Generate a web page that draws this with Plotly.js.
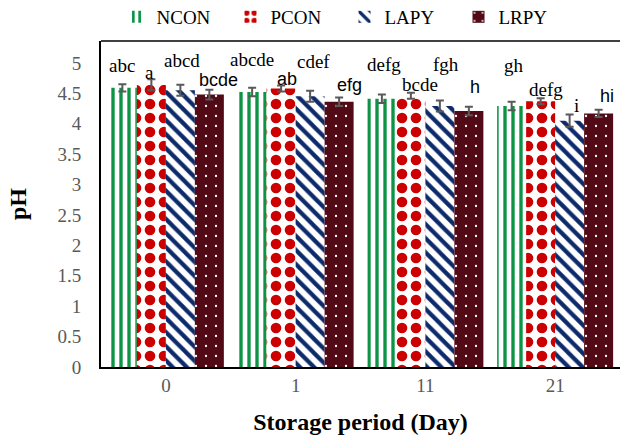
<!DOCTYPE html>
<html>
<head>
<meta charset="utf-8">
<script src="https://cdn.plot.ly/plotly-3.0.1.min.js"></script>
<style>html,body{margin:0;padding:0;background:#fff;}#chart{width:623px;height:435px;}</style>
</head>
<body>
<div id="chart"></div>
<script>
// ---- data ----
const days = ["0", "1", "11", "21"];
const seriesNames = ["NCON", "PCON", "LAPY", "LRPY"];
const ncon = [4.59, 4.52, 4.41, 4.29];
const nconErr = [0.06, 0.07, 0.07, 0.07];
const pcon = [4.64, 4.58, 4.46, 4.37];
const pconErr = [0.09, 0.05, 0.05, 0.05];
const lapy = [4.55, 4.45, 4.29, 4.05];
const lapyErr = [0.09, 0.09, 0.09, 0.10];
const lrpy = [4.48, 4.36, 4.21, 4.17];
const lrpyErr = [0.08, 0.07, 0.07, 0.06];
const nconLetters = ["abc", "abcde", "defg", "gh"];
const pconLetters = ["a", "ab", "bcde", "defg"];
const lapyLetters = ["abcd", "cdef", "fgh", "i"];
const lrpyLetters = ["bcde", "efg", "h", "hi"];
const yTicks = [0, 0.5, 1, 1.5, 2, 2.5, 3, 3.5, 4, 4.5, 5];

// ---- styling ----
const serif = "Liberation Serif";
const sans = "Liberation Sans";
const bargap = 0.106;
const values = [ncon, pcon, lapy, lrpy];
const errs = [nconErr, pconErr, lapyErr, lrpyErr];
const letters = [nconLetters, pconLetters, lapyLetters, lrpyLetters];
const patterns = [
  {shape: "|", fgcolor: "#0a9444", bgcolor: "#ffffff", size: 8, solidity: 0.42, fillmode: "replace"},
  {shape: ".", fgcolor: "#cc0000", bgcolor: "#ffffff", size: 14, solidity: 0.45, fillmode: "replace"},
  {shape: "\\", fgcolor: "#0d2a6b", bgcolor: "#ffffff", size: 10, solidity: 0.42, fillmode: "replace"},
  {shape: ".", fgcolor: "#ffffff", bgcolor: "#520b16", size: 10, solidity: 0.04, fillmode: "replace"}
];
const baseColors = ["#0a9444", "#cc0000", "#0d2a6b", "#520b16"];
// label pixel offsets (layout only)
const labShiftX = [[0,0,2,2],[-2,6,9,5],[2,3,6,7],[9,10,6,8]];
const labShiftY = [[19,28,30,36],[7,6,8,9],[24,29,36,9],[10,13,20,14]];
const labFont = [[serif,serif,serif,serif],[serif,sans,serif,serif],[serif,serif,serif,serif],[sans,sans,sans,sans]];

const traces = seriesNames.map((name, s) => ({
  type: "bar",
  name: name,
  x: days,
  y: values[s],
  error_y: {type: "data", array: errs[s], visible: true, color: "#595959", thickness: 2, width: 4},
  marker: {color: baseColors[s], pattern: patterns[s], line: {width: 0}}
}));

const barW = (1 - bargap) / 4;
const annotations = [];
for (let s = 0; s < 4; s++) {
  for (let g = 0; g < days.length; g++) {
    annotations.push({
      x: g + (s - 1.5) * barW,
      y: values[s][g] + errs[s][g],
      xref: "x", yref: "y",
      text: letters[s][g],
      showarrow: false,
      xanchor: "center", yanchor: "middle",
      xshift: labShiftX[s][g], yshift: labShiftY[s][g],
      font: {family: labFont[s][g], size: labFont[s][g] === sans ? 18 : 19, color: "#000"}
    });
  }
}

const layout = {
  width: 623, height: 435,
  margin: {l: 101, r: 3, t: 41, b: 68, autoexpand: false},
  paper_bgcolor: "#fff", plot_bgcolor: "#fff",
  barmode: "group", bargap: bargap, bargroupgap: 0,
  showlegend: true,
  legend: {orientation: "h", xref: "container", yref: "container",
    x: 0.187, xanchor: "left", y: 0.961, yanchor: "middle",
    entrywidth: 69, entrywidthmode: "pixels",
    font: {family: serif, size: 19, color: "#000"}, bgcolor: "rgba(0,0,0,0)"},
  xaxis: {type: "category", showline: true, linecolor: "#000", linewidth: 2,
    ticks: "", showgrid: false, zeroline: false,
    tickfont: {family: serif, size: 19, color: "#595959"},
    title: {text: "<b>Storage period (Day)</b>", font: {family: serif, size: 24, color: "#000"}, standoff: 18}},
  yaxis: {range: [0, 5.36], tickvals: yTicks, ticktext: yTicks.map(String),
    showline: true, linecolor: "#000", linewidth: 2, ticks: "", showgrid: false, zeroline: false,
    ticklabelstandoff: 14,
    tickfont: {family: serif, size: 19, color: "#595959"},
    title: {text: "<b>pH</b>", font: {family: serif, size: 24, color: "#000"}, standoff: 24}},
  shapes: [{type: "line", xref: "paper", yref: "paper", x0: 0, x1: 1, y0: 1, y1: 1,
    line: {color: "#404040", width: 2}}],
  annotations: annotations
};

Plotly.newPlot("chart", traces, layout, {displayModeBar: false, staticPlot: true});
</script>
</body>
</html>
